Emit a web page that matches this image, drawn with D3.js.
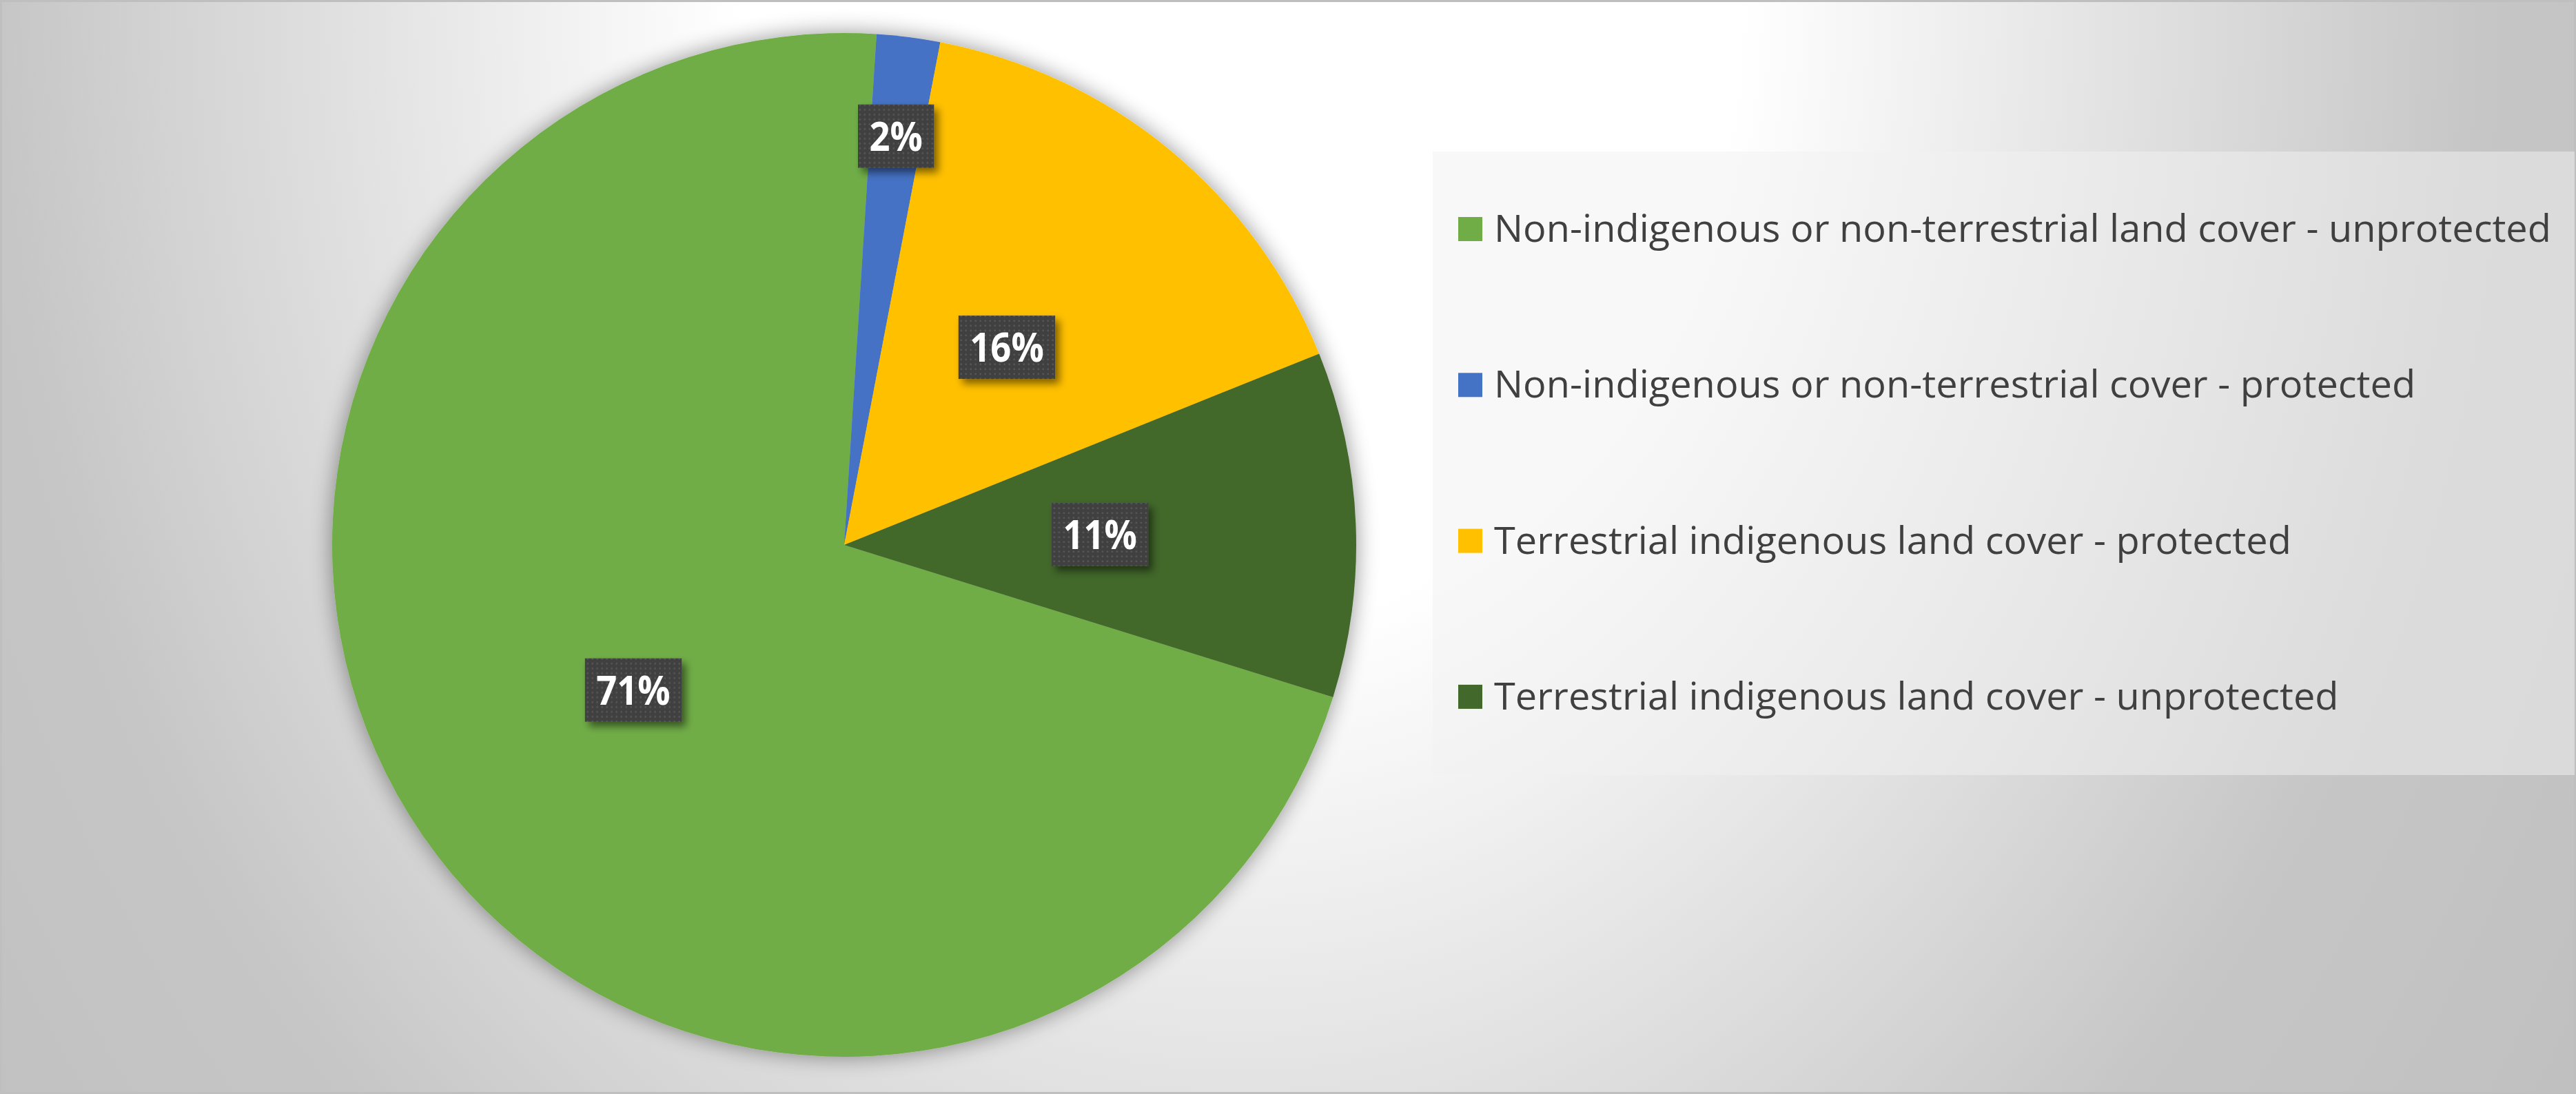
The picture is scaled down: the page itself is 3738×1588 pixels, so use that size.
<!DOCTYPE html>
<html><head><meta charset="utf-8">
<script src="https://cdn.jsdelivr.net/npm/d3@7"></script>
<style>html,body{margin:0;padding:0;overflow:hidden;background:#fff}</style>
</head><body>
<svg id="chart" width="3738" height="1588"></svg>
<script>
// ---- data ----
const categories = [
  "Non-indigenous or non-terrestrial land cover - unprotected",
  "Non-indigenous or non-terrestrial cover - protected",
  "Terrestrial indigenous land cover - protected",
  "Terrestrial indigenous land cover - unprotected"
];
const values = [71.2, 2.0, 15.9, 10.9];
const colors = ["#70AD47", "#4472C4", "#FFC000", "#43682B"];

// ---- layout ----
const W = 3738, H = 1588;
const cx = 1225, cy = 791, R = 743;
const startDeg = 107.3;

const svg = d3.select("#chart");
const defs = svg.append("defs");

// background radial gradient
const bg = defs.append("radialGradient").attr("id", "bgGrad")
  .attr("gradientUnits", "userSpaceOnUse")
  .attr("cx", 0).attr("cy", 0).attr("r", 2500)
  .attr("gradientTransform", "translate(1800,0) scale(1,1.25)");
[[0, "#ffffff"], [0.29, "#ffffff"], [0.48, "#e6e6e6"], [0.72, "#c6c6c6"], [1, "#bebebe"]]
  .forEach(([o, c]) => bg.append("stop").attr("offset", o).attr("stop-color", c));

// pie shadow
const pf = defs.append("filter").attr("id", "pieShadow")
  .attr("x", "-20%").attr("y", "-20%").attr("width", "140%").attr("height", "140%");
pf.append("feGaussianBlur").attr("in", "SourceAlpha").attr("stdDeviation", 16).attr("result", "b");
pf.append("feComponentTransfer").attr("in", "b").attr("result", "s")
  .append("feFuncA").attr("type", "linear").attr("slope", 0.42);
const pm = pf.append("feMerge");
pm.append("feMergeNode").attr("in", "s");
pm.append("feMergeNode").attr("in", "SourceGraphic");

// label shadow
const lf = defs.append("filter").attr("id", "lblShadow")
  .attr("x", "-30%").attr("y", "-30%").attr("width", "160%").attr("height", "160%");
lf.append("feGaussianBlur").attr("in", "SourceAlpha").attr("stdDeviation", 6).attr("result", "b");
lf.append("feOffset").attr("in", "b").attr("dx", 6).attr("dy", 7).attr("result", "o");
lf.append("feComponentTransfer").attr("in", "o").attr("result", "s")
  .append("feFuncA").attr("type", "linear").attr("slope", 0.5);
const lm = lf.append("feMerge");
lm.append("feMergeNode").attr("in", "s");
lm.append("feMergeNode").attr("in", "SourceGraphic");

// dotted pattern for label boxes
const pat = defs.append("pattern").attr("id", "dots")
  .attr("patternUnits", "userSpaceOnUse").attr("width", 7).attr("height", 7);
pat.append("rect").attr("width", 7).attr("height", 7).attr("fill", "#404040");
pat.append("rect").attr("x", 2.5).attr("y", 2.5).attr("width", 2.4).attr("height", 2.4).attr("fill", "#585858");

// background + border
svg.append("rect").attr("x", 0).attr("y", 0).attr("width", W).attr("height", H)
  .attr("fill", "url(#bgGrad)");
svg.append("rect").attr("x", 1.5).attr("y", 1.5).attr("width", W - 3).attr("height", H - 3)
  .attr("fill", "none").attr("stroke", "#bfbfbf").attr("stroke-width", 3);

// ---- pie ----
const a0 = startDeg * Math.PI / 180;
const pie = d3.pie().sort(null).value(d => d).startAngle(a0).endAngle(a0 + 2 * Math.PI);
const arcs = pie(values);
const arc = d3.arc().innerRadius(0).outerRadius(R);
const total = d3.sum(values);
const fmt = d3.format(".0%");

const g = svg.append("g").attr("transform", `translate(${cx},${cy})`);
g.append("g").attr("filter", "url(#pieShadow)")
  .selectAll("path").data(arcs).join("path")
  .attr("d", arc).attr("fill", (d, i) => colors[i]);

// data labels
const lblG = g.append("g");
arcs.forEach((d, i) => {
  const frac = d.value / total;
  const rho = frac < 0.05 ? 0.805 * R : 0.5 * R;
  const [lx, ly] = d3.arc().innerRadius(rho).outerRadius(rho).centroid(d);
  const grp = lblG.append("g").attr("transform", `translate(${lx},${ly})`);
  const box = grp.append("rect").attr("fill", "url(#dots)").attr("filter", "url(#lblShadow)");
  const t = grp.append("text")
    .attr("font-family", "'Open Sans', sans-serif").attr("font-weight", 700)
    .attr("font-size", 59).attr("fill", "#ffffff")
    .attr("text-anchor", "middle")
    .text(fmt(frac));
  const w0 = t.node().getComputedTextLength();
  const sx = 0.89;
  t.attr("transform", `translate(0,21) scale(${sx},1)`);
  const bw = w0 * sx + 33, bh = 92;
  box.attr("x", -bw / 2).attr("y", -bh / 2).attr("width", bw).attr("height", bh);
});

// ---- legend ----
const legX = 2079, legY = 220, legW = W - 2 - 2079, legH = 905;
svg.append("rect").attr("x", legX).attr("y", legY).attr("width", legW).attr("height", legH)
  .attr("fill", "#f2f2f2").attr("fill-opacity", 0.5);

const leg = svg.append("g");
const items = leg.selectAll("g").data(categories).join("g");
items.append("rect")
  .attr("x", 2116).attr("y", (d, i) => 315 + i * 226.3)
  .attr("width", 35).attr("height", 35)
  .attr("fill", (d, i) => colors[i]);
const texts = items.append("text")
  .attr("font-family", "'Open Sans', sans-serif").attr("font-size", 54.6)
  .attr("fill", "#404040")
  .text(d => d);
const w1 = texts.nodes()[0].getComputedTextLength();
const lsx = 1534 / w1;
texts.attr("transform", (d, i) => `translate(2168,${351 + i * 226.3}) scale(${lsx},1)`);
</script>
</body></html>
